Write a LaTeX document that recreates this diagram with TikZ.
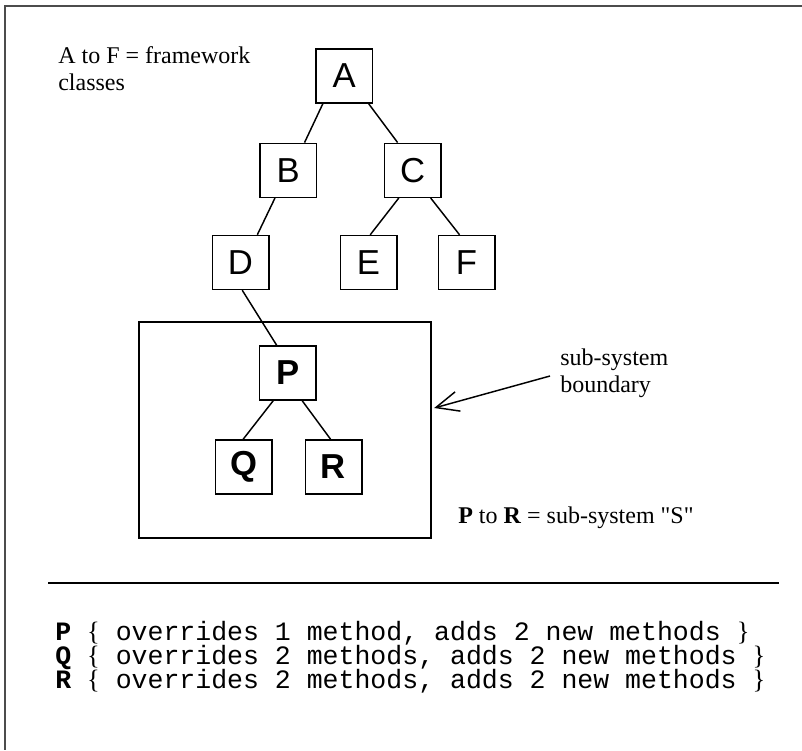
\documentclass[tikz,border=0pt]{standalone}
\usepackage{fontspec}
\setmainfont{Liberation Serif}[Ligatures=TeXOff]
\setmonofont{Liberation Mono}
\newfontfamily\boxfont{Liberation Sans}
\usetikzlibrary{calc,arrows.meta}

\tikzset{
  classbox/.style={draw, line width=1.1pt, minimum width=42.4pt, minimum height=40.5pt,
    inner sep=0pt, font=\boxfont\fontsize{26}{26}\selectfont},
  subclassbox/.style={classbox, font=\boxfont\bfseries\fontsize{26}{26}\selectfont},
  link/.style={line width=1.1pt},
  note/.style={anchor=base west, inner sep=0pt, align=left,
    font=\fontsize{18}{20.25}\selectfont},
  codeline/.style={anchor=base west, inner sep=0pt,
    font=\ttfamily\fontsize{19.9}{24}\selectfont},
}
\newcommand{\lb}{{\rmfamily\{}}
\newcommand{\rb}{{\rmfamily\}}}

\begin{document}
\begin{tikzpicture}[x=0.75pt, y=-0.75pt]
  \useasboundingbox (0,0) rectangle (802,750);

  % page frame (top and left edges)
  \draw[line width=1.1pt, black!70] (802,6) -- (5,6) -- (5,750);

  % framework classes
  \node[classbox] (A) at (344.3,76)   {A};
  \node[classbox] (B) at (288.3,170.3) {B};
  \node[classbox] (C) at (412.7,170.3) {C};
  \node[classbox] (D) at (240.5,262.5) {D};
  \node[classbox] (E) at (368.5,262.5) {E};
  \node[classbox] (F) at (466.5,262.5) {F};

  % sub-system boundary and its classes
  \node[draw, line width=1.5pt, minimum width=218.5pt, minimum height=161.8pt,
        inner sep=0pt] (sub) at (285,430) {};
  \node[subclassbox] (P) at (287.7,373) {P};
  \node[subclassbox] (Q) at (243.7,467) {Q};
  \node[subclassbox] (R) at (333.5,467) {R};

  % inheritance links
  \draw[link] ($(A.south west)!0.13!(A.south east)$) -- ($(B.north west)!0.78!(B.north east)$);
  \draw[link] ($(A.south west)!0.92!(A.south east)$) -- ($(C.north west)!0.24!(C.north east)$);
  \draw[link] ($(B.south west)!0.27!(B.south east)$) -- ($(D.north west)!0.79!(D.north east)$);
  \draw[link] ($(C.south west)!0.26!(C.south east)$) -- ($(E.north west)!0.53!(E.north east)$);
  \draw[link] ($(C.south west)!0.81!(C.south east)$) -- ($(F.north west)!0.38!(F.north east)$);
  \draw[link] ($(D.south west)!0.53!(D.south east)$) -- ($(P.north west)!0.31!(P.north east)$);
  \draw[link] ($(P.south west)!0.25!(P.south east)$) -- ($(Q.north west)!0.49!(Q.north east)$);
  \draw[link] ($(P.south west)!0.75!(P.south east)$) -- ($(R.north west)!0.45!(R.north east)$);

  % labels (base anchor sits on the last line)
  \node[note] (legend) at (58,90) {A to F = framework\\classes};
  \node[note] (boundlbl) at (560,392) {sub-system\\boundary};
  \node[note] (sublbl) at (458,523) {\textbf{P} to \textbf{R} = sub-system "S"};

  % pointer to the boundary
  \coordinate (tail) at (550,376);
  \draw[line width=1.1pt, -{Straight Barb[length=17pt, width=15pt, line width=1.1pt]}]
    (tail) -- ($(sub.east)+(2.5,-22)$);

  % separator
  \coordinate (sepL) at (48,583);
  \coordinate (sepR) at (779,583);
  \draw[line width=1.5pt] (sepL) -- (sepR);

  % method summary
  \node[codeline] (lineP) at (55,640) {\textbf{P} \lb{} overrides 1 method, adds 2 new methods \rb};
  \node[codeline] (lineQ) at (55,664) {\textbf{Q} \lb{} overrides 2 methods, adds 2 new methods \rb};
  \node[codeline] (lineR) at (55,688) {\textbf{R} \lb{} overrides 2 methods, adds 2 new methods \rb};
\end{tikzpicture}
\end{document}
